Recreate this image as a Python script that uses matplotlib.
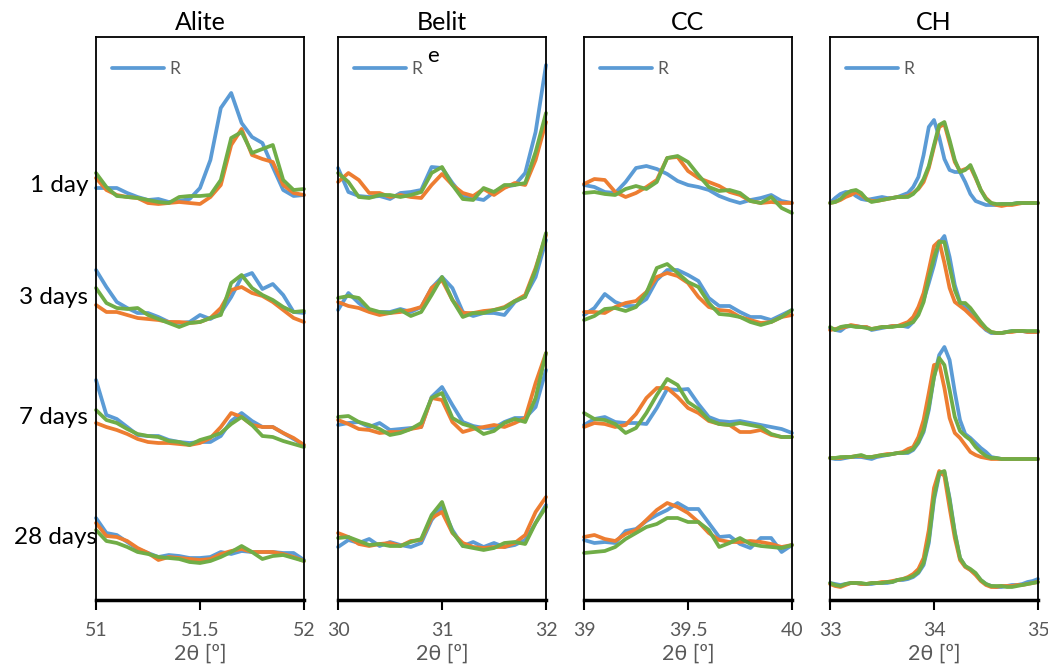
import matplotlib
matplotlib.use("Agg")
import matplotlib.pyplot as plt

plt.rcParams['font.family'] = ['Lato', 'DejaVu Sans']

# idades das amostras (uma linha por idade, empilhadas)
idades = ["1 day", "3 days", "7 days", "28 days"]
fases = ["Alite", "Belit", "CC", "CH"]
cores = ["#5B9BD5", "#ED7D31", "#70AD47"]

# ---------------- Alite ----------------
x_alite = [51.00, 51.05, 51.10, 51.15, 51.20, 51.25, 51.30, 51.35, 51.40, 51.45, 51.50,
           51.55, 51.60, 51.65, 51.70, 51.75, 51.80, 51.85, 51.90, 51.95, 52.00]
alite_azul = [
    [412, 412, 412, 407, 403, 400, 401, 398, 399, 401, 412, 440, 492, 507, 477, 463, 457, 433, 410, 404, 405],
    [330, 313, 298, 292, 287, 287, 283, 278, 277, 278, 285, 281, 287, 303, 323, 327, 311, 316, 305, 288, 287],
    [220, 185, 181, 173, 165, 164, 164, 160, 158, 157, 158, 158, 164, 179, 187, 179, 173, 173, 167, 161, 155],
    [82, 67, 65, 58, 51, 47, 43, 45, 44, 42, 42, 43, 48, 46, 49, 48, 48, 48, 47, 47, 40],
]
alite_laranja = [
    [422, 410, 405, 403, 402, 397, 396, 397, 398, 397, 396, 403, 415, 455, 471, 445, 441, 438, 415, 407, 405],
    [295, 288, 288, 285, 282, 281, 280, 278, 278, 277, 278, 282, 292, 310, 313, 307, 304, 298, 290, 282, 278],
    [177, 173, 170, 166, 161, 158, 157, 157, 156, 155, 157, 162, 173, 187, 183, 175, 173, 173, 167, 162, 155],
    [77, 64, 63, 59, 52, 47, 40, 43, 42, 41, 40, 41, 46, 49, 51, 48, 48, 48, 46, 43, 39],
]
alite_verde = [
    [427, 413, 404, 403, 402, 400, 398, 397, 403, 404, 404, 405, 420, 462, 468, 447, 451, 455, 420, 410, 411],
    [312, 297, 292, 291, 292, 285, 281, 277, 273, 277, 278, 282, 285, 317, 325, 312, 305, 300, 293, 288, 289],
    [190, 180, 177, 171, 166, 164, 163, 159, 158, 155, 160, 163, 167, 176, 183, 175, 164, 163, 159, 156, 153],
    [70, 59, 57, 53, 48, 46, 43, 42, 41, 38, 37, 39, 43, 48, 54, 48, 41, 44, 45, 42, 39],
]

# ---------------- Belit ----------------
x_belit = [30.0, 30.1, 30.2, 30.3, 30.4, 30.5, 30.6, 30.7, 30.8, 30.9, 31.0,
           31.1, 31.2, 31.3, 31.4, 31.5, 31.6, 31.7, 31.8, 31.9, 32.0]
belit_azul = [
    [432, 408, 404, 403, 404, 401, 407, 408, 410, 433, 432, 417, 404, 402, 400, 408, 413, 415, 427, 468, 535],
    [290, 307, 297, 289, 288, 288, 291, 288, 293, 312, 323, 312, 288, 284, 287, 287, 285, 298, 304, 323, 360],
    [175, 177, 178, 173, 177, 170, 171, 172, 173, 203, 213, 195, 178, 174, 172, 172, 178, 182, 182, 193, 230],
    [53, 60, 57, 61, 54, 58, 55, 53, 57, 80, 93, 70, 54, 58, 53, 57, 53, 55, 60, 77, 95],
]
belit_laranja = [
    [418, 427, 420, 407, 407, 403, 405, 403, 402, 415, 426, 415, 407, 404, 411, 405, 412, 417, 415, 440, 478],
    [298, 294, 292, 288, 285, 287, 288, 290, 293, 312, 320, 300, 287, 287, 289, 290, 293, 299, 305, 332, 365],
    [180, 176, 171, 170, 167, 168, 168, 171, 173, 202, 200, 178, 168, 171, 173, 175, 173, 177, 182, 217, 247],
    [67, 63, 56, 54, 56, 57, 54, 59, 60, 82, 88, 67, 57, 53, 52, 53, 53, 57, 65, 88, 103],
]
belit_verde = [
    [427, 418, 403, 402, 405, 405, 403, 405, 408, 427, 433, 415, 401, 400, 412, 408, 415, 415, 417, 448, 487],
    [302, 304, 302, 291, 288, 287, 290, 284, 288, 305, 323, 300, 283, 287, 287, 290, 292, 299, 303, 330, 367],
    [183, 184, 178, 175, 171, 165, 167, 171, 177, 202, 207, 182, 176, 173, 166, 169, 177, 181, 178, 202, 247],
    [62, 63, 59, 55, 56, 54, 54, 58, 61, 85, 98, 68, 54, 52, 50, 52, 57, 58, 56, 77, 93],
]

# ---------------- CC ----------------
x_cc = [39.00, 39.05, 39.10, 39.15, 39.20, 39.25, 39.30, 39.35, 39.40, 39.45, 39.50,
        39.55, 39.60, 39.65, 39.70, 39.75, 39.80, 39.85, 39.90, 39.95, 40.00]
cc_azul = [
    [415, 413, 408, 407, 418, 432, 434, 431, 426, 419, 415, 413, 410, 404, 400, 397, 400, 402, 405, 399, 397],
    [285, 292, 306, 298, 294, 294, 301, 320, 330, 330, 325, 319, 302, 294, 294, 288, 283, 283, 280, 285, 290],
    [175, 181, 183, 178, 177, 177, 176, 192, 211, 210, 211, 196, 183, 179, 178, 179, 177, 175, 173, 171, 167],
    [60, 57, 58, 57, 69, 71, 79, 85, 90, 97, 91, 91, 77, 63, 64, 56, 52, 62, 62, 48, 55],
]
cc_laranja = [
    [416, 421, 420, 408, 403, 407, 413, 420, 442, 443, 429, 422, 418, 414, 408, 405, 399, 397, 398, 397, 397],
    [288, 288, 287, 293, 297, 299, 308, 323, 327, 324, 317, 303, 293, 290, 289, 283, 280, 277, 278, 283, 285],
    [173, 177, 176, 173, 175, 186, 202, 212, 212, 203, 192, 187, 179, 176, 175, 168, 168, 170, 165, 163, 163],
    [63, 65, 61, 59, 66, 70, 80, 90, 97, 93, 87, 78, 67, 60, 58, 58, 59, 58, 56, 53, 55],
]
cc_verde = [
    [407, 408, 406, 405, 411, 414, 411, 418, 442, 444, 438, 425, 413, 409, 410, 407, 399, 397, 403, 392, 387],
    [280, 284, 291, 292, 289, 293, 307, 332, 336, 327, 318, 313, 297, 286, 285, 283, 278, 275, 278, 283, 290],
    [187, 181, 180, 176, 167, 172, 187, 205, 221, 215, 198, 191, 180, 176, 175, 177, 175, 173, 166, 163, 163],
    [47, 48, 49, 53, 61, 67, 73, 76, 82, 82, 78, 78, 70, 53, 57, 62, 56, 54, 53, 52, 55],
]

# ---------------- CH ----------------
x_ch = [33.00, 33.05, 33.10, 33.15, 33.20, 33.25, 33.30, 33.35, 33.40, 33.45, 33.50,
        33.55, 33.60, 33.65, 33.70, 33.75, 33.80, 33.85, 33.90, 33.95, 34.00,
        34.05, 34.10, 34.15, 34.20, 34.25, 34.30, 34.35, 34.40, 34.45, 34.50,
        34.55, 34.60, 34.65, 34.70, 34.75, 34.80, 34.85, 34.90, 34.95, 35.00]
ch_azul = [
    [397, 402, 406, 408, 408, 404, 401, 400, 401, 402, 403, 402, 402, 403, 405, 407, 413, 423, 445, 473, 480,
     463, 441, 430, 428, 428, 418, 406, 399, 397, 395, 395, 395, 396, 396, 396, 397, 397, 397, 397, 397],
    [272, 270, 269, 273, 274, 274, 273, 273, 270, 271, 272, 273, 274, 274, 274, 273, 278, 287, 300, 317, 335,
     357, 364, 343, 315, 298, 293, 288, 281, 275, 270, 267, 267, 267, 268, 269, 269, 269, 268, 268, 268],
    [142, 141, 141, 142, 143, 143, 143, 142, 141, 143, 144, 145, 146, 147, 147, 147, 150, 157, 168, 190, 223,
     245, 253, 240, 208, 180, 166, 162, 157, 152, 148, 143, 142, 141, 141, 141, 141, 141, 141, 141, 141],
    [17, 16, 15, 16, 17, 17, 16, 16, 16, 17, 17, 17, 18, 20, 20, 21, 23, 27, 35, 57, 100,
     125, 128, 102, 68, 42, 34, 30, 26, 20, 16, 14, 13, 13, 14, 15, 15, 16, 18, 19, 21],
]
ch_laranja = [
    [397, 398, 400, 403, 405, 408, 405, 401, 399, 399, 400, 401, 402, 403, 403, 404, 407, 411, 418, 432, 453,
     473, 476, 457, 438, 429, 431, 433, 422, 410, 402, 397, 395, 394, 395, 395, 396, 397, 397, 397, 397],
    [270, 271, 272, 273, 275, 274, 273, 273, 271, 272, 273, 273, 274, 274, 276, 278, 283, 293, 307, 330, 354,
     359, 337, 312, 298, 294, 290, 285, 280, 275, 271, 268, 267, 267, 268, 268, 269, 269, 268, 268, 268],
    [142, 142, 142, 143, 143, 144, 144, 143, 143, 144, 145, 146, 146, 147, 148, 151, 153, 163, 180, 207, 235,
     236, 212, 182, 167, 162, 155, 148, 145, 143, 142, 141, 141, 141, 141, 141, 141, 141, 141, 141, 141],
    [16, 14, 13, 15, 17, 17, 16, 16, 17, 17, 18, 18, 19, 20, 21, 23, 26, 31, 42, 70, 112,
     129, 124, 92, 62, 40, 33, 30, 25, 19, 15, 13, 13, 14, 14, 14, 15, 15, 16, 17, 18],
]
ch_verde = [
    [397, 398, 401, 406, 409, 410, 407, 401, 398, 399, 400, 401, 402, 403, 403, 403, 406, 412, 421, 434, 455,
     475, 478, 460, 440, 428, 430, 435, 423, 410, 401, 397, 396, 396, 396, 396, 397, 397, 397, 397, 397],
    [273, 270, 273, 274, 274, 273, 273, 272, 271, 272, 273, 273, 273, 274, 274, 276, 278, 285, 298, 322, 342,
     358, 358, 333, 310, 297, 297, 292, 285, 278, 272, 268, 267, 267, 268, 269, 269, 269, 269, 269, 269],
    [142, 142, 143, 143, 143, 144, 145, 143, 143, 144, 145, 145, 146, 147, 147, 148, 151, 158, 170, 193, 223,
     242, 235, 210, 183, 169, 164, 160, 153, 148, 144, 142, 142, 141, 141, 141, 141, 141, 141, 141, 141],
    [17, 15, 14, 16, 17, 17, 17, 16, 17, 17, 17, 18, 18, 20, 21, 22, 24, 28, 37, 60, 103,
     127, 129, 100, 67, 42, 34, 31, 27, 20, 16, 14, 14, 14, 13, 13, 14, 15, 16, 17, 18],
]

paineis = [
    (x_alite, [alite_azul, alite_laranja, alite_verde], (51, 52), [51, 51.5, 52]),
    (x_belit, [belit_azul, belit_laranja, belit_verde], (30, 32), [30, 31, 32]),
    (x_cc, [cc_azul, cc_laranja, cc_verde], (39, 40), [39, 39.5, 40]),
    (x_ch, [ch_azul, ch_laranja, ch_verde], (33, 35), [33, 34, 35]),
]

cinza = "#595959"

fig = plt.figure(figsize=(10.48, 6.67), dpi=100)

esquerdas = [96, 338, 584, 830]  # posicao em pixels de cada painel
for i, (x, series, xlim, ticks) in enumerate(paineis):
    ax = fig.add_axes([esquerdas[i] / 1048, 1 - 600 / 667, 208 / 1048, 563 / 667])

    for cor, serie in zip(cores, series):
        for j, y in enumerate(serie):
            label = "R" if (j == 0 and cor == cores[0]) else "_nolegend_"
            ax.plot(x, y, color=cor, lw=2.7, solid_joinstyle="round",
                    solid_capstyle="round", label=label, clip_on=False)

    ax.set_xlim(*xlim)
    ax.set_ylim(0, 563)
    ax.set_xticks(ticks)
    ax.set_xticklabels([f"{t:g}" for t in ticks])
    ax.set_yticks([])
    ax.tick_params(axis="x", direction="out", length=7, width=1.5,
                   labelsize=14, labelcolor=cinza, pad=9)
    for lado in ["left", "right", "top"]:
        ax.spines[lado].set_linewidth(1.3)
    ax.spines["bottom"].set_linewidth(2.5)

    ax.set_title(fases[i], fontsize=18, pad=5)
    ax.set_xlabel("2θ [º]", fontsize=15.5, color=cinza, labelpad=3)

    ax.legend(loc="upper left", frameon=False, fontsize=12.5,
              handlelength=3.0, handletextpad=0.3, labelcolor=cinza,
              bbox_to_anchor=(0.0, 0.985))

    if fases[i] == "Belit":
        ax.text(0.43, 0.955, "e", transform=ax.transAxes, fontsize=16, color="black")

# rotulos das idades
y_rotulos = [185, 298, 418, 537]
x_rotulos = [88, 88, 88, 97]
for nome, yp, xp in zip(idades, y_rotulos, x_rotulos):
    fig.text(xp / 1048, 1 - yp / 667, nome, ha="right", va="center", fontsize=17.5)

plt.savefig("out.png", dpi=100)
